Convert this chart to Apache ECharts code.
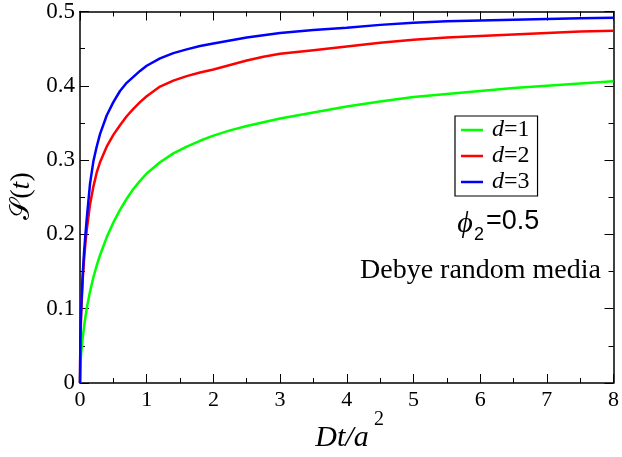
<!DOCTYPE html>
<html>
<head>
<meta charset="utf-8">
<script src="https://cdn.jsdelivr.net/npm/echarts@6/dist/echarts.min.js"></script>
<style>
  html, body { margin: 0; padding: 0; background: #fff; }
  #main { width: 622px; height: 457px; }
</style>
</head>
<body>
<div id="main"></div>
<script>
// Dt/a^2 sample points and S(t)
const xs = [0, 0.005, 0.01, 0.02, 0.04, 0.06, 0.08, 0.1, 0.15, 0.2, 0.25, 0.3, 0.4, 0.5, 0.6, 0.7, 0.8, 0.9, 1.0,
            1.2, 1.4, 1.6, 1.8, 2.0, 2.25, 2.5, 2.75, 3, 3.5, 4, 4.5, 5, 5.5, 6, 6.5, 7, 7.5, 8];
const d1 = [0, 0.02, 0.03, 0.043, 0.06, 0.075, 0.088, 0.1, 0.123, 0.142, 0.158, 0.172, 0.196, 0.216, 0.233, 0.248, 0.261, 0.272, 0.282,
            0.297, 0.309, 0.318, 0.326, 0.333, 0.340, 0.346, 0.351, 0.356, 0.364, 0.372, 0.379, 0.385, 0.389, 0.393, 0.397, 0.400, 0.403, 0.406];
const d2 = [0, 0.05, 0.07, 0.098, 0.138, 0.165, 0.187, 0.205, 0.24, 0.264, 0.283, 0.297, 0.318, 0.334, 0.347, 0.359, 0.369, 0.378, 0.386,
            0.399, 0.407, 0.413, 0.418, 0.422, 0.428, 0.434, 0.439, 0.443, 0.448, 0.453, 0.458, 0.462, 0.465, 0.467, 0.469, 0.471, 0.473, 0.474];
const d3 = [0, 0.06, 0.08, 0.105, 0.145, 0.175, 0.198, 0.22, 0.268, 0.298, 0.318, 0.335, 0.36, 0.378, 0.393, 0.404, 0.412, 0.420, 0.427,
            0.437, 0.444, 0.449, 0.4535, 0.457, 0.461, 0.465, 0.468, 0.471, 0.475, 0.478, 0.482, 0.485, 0.487, 0.488, 0.489, 0.490, 0.491, 0.4915];
const names = ['d=1', 'd=2', 'd=3'];
const colors = ['#00ff00', '#ff0000', '#0000ff'];
const xTicks = ['0', '1', '2', '3', '4', '5', '6', '7', '8'];
const yTicks = ['0', '0.1', '0.2', '0.3', '0.4', '0.5'];

const serif = 'Liberation Serif';
const pair = arr => xs.map((x, i) => [x, arr[i]]);

function axisX(pos, labels) {
  return {
    type: 'value', position: pos, min: 0, max: 8, interval: 1,
    axisLine: { show: true, onZero: false, lineStyle: { color: '#000', width: 1.5 } },
    axisTick: { show: true, inside: true, length: 9, lineStyle: { color: '#000', width: 1 } },
    minorTick: { show: true, splitNumber: 2, length: 5, lineStyle: { color: '#000', width: 1 } },
    splitLine: { show: false },
    axisLabel: labels ? {
      show: true, margin: 6, color: '#000', fontFamily: serif, fontSize: 22,
      formatter: v => xTicks[Math.round(v)]
    } : { show: false }
  };
}
function axisY(pos, labels) {
  return {
    type: 'value', position: pos, min: 0, max: 0.5, interval: 0.1,
    axisLine: { show: true, onZero: false, lineStyle: { color: '#000', width: 1.5 } },
    axisTick: { show: true, inside: true, length: 9, lineStyle: { color: '#000', width: 1 } },
    minorTick: { show: true, splitNumber: 2, length: 5, lineStyle: { color: '#000', width: 1 } },
    splitLine: { show: false },
    axisLabel: labels ? {
      show: true, margin: 5, color: '#000', fontFamily: serif, fontSize: 23,
      formatter: v => yTicks[Math.round(v * 10)]
    } : { show: false }
  };
}

const chart = echarts.init(document.getElementById('main'), null, { renderer: 'canvas' });
chart.setOption({
  animation: false,
  backgroundColor: '#fff',
  grid: { left: 80, right: 8, top: 9, bottom: 74, containLabel: false },
  xAxis: [axisX('bottom', true), axisX('top', false)],
  yAxis: [axisY('left', true), axisY('right', false)],
  legend: {
    orient: 'vertical', left: 455, top: 116,
    padding: [2, 8, 2, 6], itemGap: 2,
    icon: 'rect', itemWidth: 22, itemHeight: 2.5,
    borderColor: '#000', borderWidth: 1.2, borderRadius: 0,
    backgroundColor: '#fff',
    data: names,
    textStyle: {
      fontFamily: serif, fontSize: 24, color: '#000', padding: [0, 0, 0, 4],
      rich: { i: { fontFamily: serif, fontSize: 24, fontStyle: 'italic', color: '#000' } }
    },
    formatter: n => '{i|d}' + n.slice(1)
  },
  series: [d1, d2, d3].map((arr, k) => ({
    name: names[k], type: 'line', data: pair(arr),
    smooth: false, showSymbol: false, symbol: 'none',
    lineStyle: { color: colors[k], width: 2.5 }, itemStyle: { color: colors[k] }
  })),
  graphic: [
    { type: 'text', x: 342, y: 438, style: { text: 'Dt/a', fontFamily: serif, fontSize: 30, fontStyle: 'italic', fill: '#000', align: 'center', verticalAlign: 'middle' } },
    { type: 'text', x: 379, y: 420, style: { text: '2', fontFamily: serif, fontSize: 20, fill: '#000', align: 'center', verticalAlign: 'middle' } },
    {
      type: 'text', x: 22, y: 196, rotation: Math.PI / 2,
      style: {
        text: '{s|\u{1D4AE}}{p|(}{t|t}{p|)}', align: 'center', verticalAlign: 'middle',
        rich: {
          s: { fontFamily: 'DejaVu Serif', fontSize: 27, fill: '#000' },
          p: { fontFamily: serif, fontSize: 28, fill: '#000' },
          t: { fontFamily: serif, fontSize: 28, fontStyle: 'italic', fill: '#000' }
        }
      }
    },
    { type: 'text', x: 465, y: 224, style: { text: '\u03D5', fontFamily: serif, fontSize: 30, fontStyle: 'italic', fill: '#000', align: 'center', verticalAlign: 'middle' } },
    { type: 'text', x: 479, y: 235, style: { text: '2', fontFamily: 'Liberation Sans', fontSize: 18, fill: '#000', align: 'center', verticalAlign: 'middle' } },
    { type: 'text', x: 486, y: 222, style: { text: '=0.5', fontFamily: 'Liberation Sans', fontSize: 27, fill: '#000', align: 'left', verticalAlign: 'middle' } },
    { type: 'text', x: 601, y: 271, style: { text: 'Debye random media', fontFamily: serif, fontSize: 28, fill: '#000', align: 'right', verticalAlign: 'middle' } }
  ]
});
</script>
</body>
</html>
